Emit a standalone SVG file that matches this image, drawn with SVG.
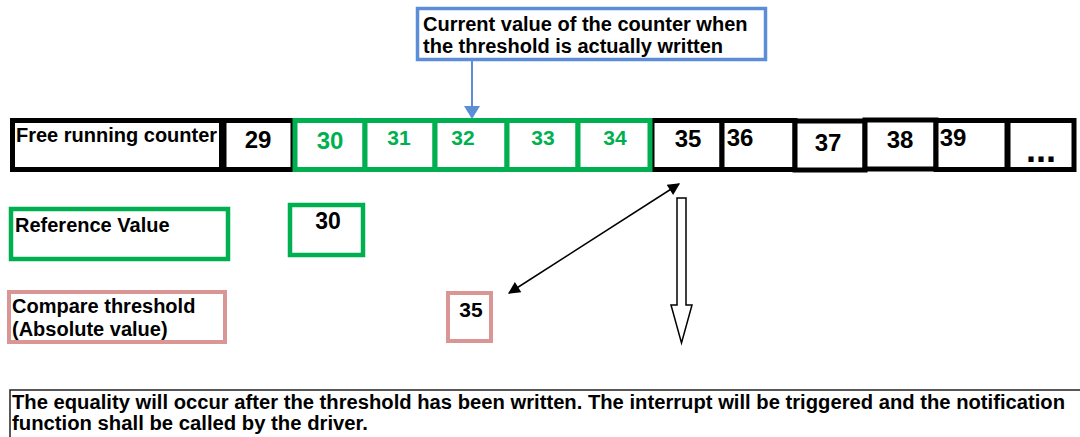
<svg xmlns="http://www.w3.org/2000/svg" width="1080" height="437" viewBox="0 0 1080 437">
<style>
text{font-family:"Liberation Sans",Arial,sans-serif;font-weight:bold;fill:#000}
.lbl{font-size:20px}
.num{font-size:24px;text-anchor:middle}
.gnum{font-size:21px;text-anchor:middle;fill:#00B050}
.blk{fill:#fff;stroke:#000;stroke-width:5}
.grn{fill:#fff;stroke:#00B050;stroke-width:5}
.grn4{fill:#fff;stroke:#00B050;stroke-width:4.5}
.pink{fill:#fff;stroke:#D99694;stroke-width:4}
.blue{fill:#fff;stroke:#5B8ED6;stroke-width:3.5}
</style>
<defs>
<marker id="ah" viewBox="0 0 10 10" refX="9" refY="5" markerWidth="14" markerHeight="12" markerUnits="userSpaceOnUse" orient="auto-start-reverse">
<path d="M0,0 L10,5 L0,10 z" fill="#000"/>
</marker>
</defs>
<rect width="1080" height="437" fill="#fff"/>

<g id="counter-label"><rect class="blk" x="12.5" y="120.5" width="209" height="49"/><text class="lbl" x="16" y="142">Free running counter</text></g>
<g id="c29"><rect class="blk" x="224" y="120.5" width="69" height="49"/><text class="num" x="258" y="148">29</text></g>
<g id="c35"><rect class="blk" x="652" y="120.5" width="70" height="49"/><text class="num" x="688" y="147">35</text></g>
<g id="c36"><rect class="blk" x="722" y="120.5" width="73" height="49"/><text class="num" x="740" y="146">36</text></g>
<g id="c37"><rect class="blk" x="795" y="121" width="70" height="49"/><text class="num" x="828" y="150.5">37</text></g>
<g id="c38"><rect class="blk" x="865" y="120" width="71" height="49"/><text class="num" x="900" y="148">38</text></g>
<g id="c39"><rect class="blk" x="936" y="120.5" width="71" height="49"/><text class="num" x="953" y="146">39</text></g>
<g id="cmore"><rect class="blk" x="1008" y="120.5" width="66" height="49"/><text x="1041" y="162" style="font-size:36px;text-anchor:middle">...</text></g>
<g id="c30"><rect class="grn" x="295" y="120.5" width="70" height="49"/><text class="num" x="330" y="149" style="fill:#00B050">30</text></g>
<g id="c31"><rect class="grn" x="365" y="120.5" width="70" height="49"/><text class="gnum" x="399" y="145">31</text></g>
<g id="c32"><rect class="grn" x="435" y="120.5" width="72" height="49"/><text class="gnum" x="463" y="145">32</text></g>
<g id="c33"><rect class="grn" x="507" y="120.5" width="71" height="49"/><text class="gnum" x="543" y="145">33</text></g>
<g id="c34"><rect class="grn" x="578" y="120.5" width="72" height="49"/><text class="gnum" x="615" y="145">34</text></g>

<g id="note-current"><rect class="blue" x="417.5" y="8.5" width="348" height="51"/><text class="lbl" x="423" y="31">Current value of the counter when</text><text class="lbl" x="423" y="53">the threshold is actually written</text></g>

<g id="ref-label"><rect class="grn4" x="11" y="209" width="217" height="50"/><text class="lbl" x="15" y="232">Reference Value</text></g>
<g id="ref-value"><rect class="grn4" x="290" y="205" width="73" height="50"/><text class="num" x="328" y="229" style="font-size:23px">30</text></g>

<g id="cmp-label"><rect class="pink" x="9" y="292" width="216" height="50"/><text class="lbl" x="12" y="313">Compare threshold</text><text class="lbl" x="12" y="336">(Absolute value)</text></g>
<g id="cmp-value"><rect class="pink" x="448" y="293" width="43" height="48"/><text class="num" x="471" y="317" style="font-size:21px">35</text></g>

<g id="note-bottom"><path d="M10,437 L10,390 L1080,390" fill="none" stroke="#222" stroke-width="1.5"/><text x="12" y="409" style="font-size:20px" textLength="1053" lengthAdjust="spacingAndGlyphs">The equality will occur after the threshold has been written. The interrupt will be triggered and the notification</text><text x="12" y="430" style="font-size:20px" textLength="356" lengthAdjust="spacingAndGlyphs">function shall be called by the driver.</text></g>

<g id="connectors">
<line x1="472" y1="61" x2="472" y2="107" stroke="#5B8ED6" stroke-width="2"/>
<path d="M464,106 L480,106 L472,119 z" fill="#5B8ED6"/>
<line x1="679" y1="184" x2="509" y2="293" stroke="#000" stroke-width="1.5" marker-start="url(#ah)" marker-end="url(#ah)"/>
<path d="M677,198 L686,198 L686,305 L692,305 L681.5,343 L671,305 L677,305 z" fill="#fff" stroke="#000" stroke-width="1.5"/>
</g>
</svg>
